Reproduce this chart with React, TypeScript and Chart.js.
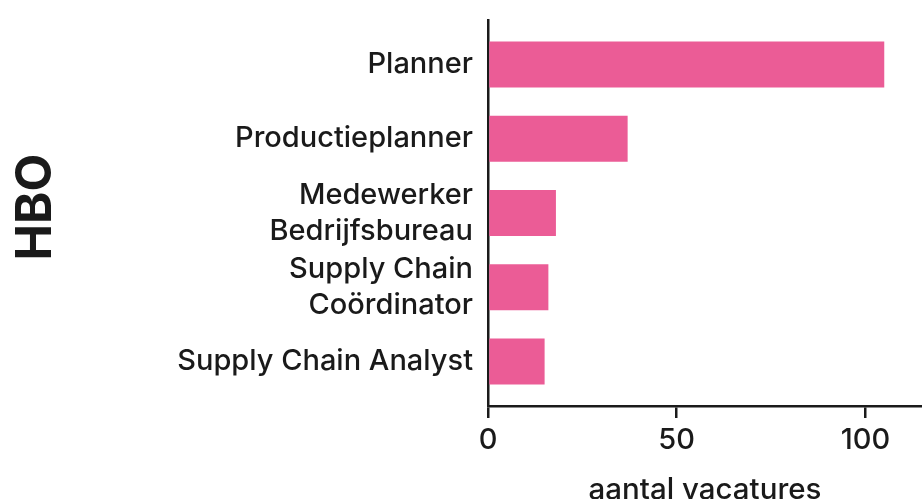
import React, { useEffect, useRef } from "react";
import { Chart, registerables } from "chart.js";

Chart.register(...registerables);

const categories: (string | string[])[] = [
  "Planner",
  "Productieplanner",
  ["Medewerker", "Bedrijfsbureau"],
  ["Supply Chain", "Coördinator"],
  "Supply Chain Analyst",
];
const values: number[] = [105, 37, 18, 16, 15];
const xTicks: number[] = [0, 50, 100];
const yTitle = " HBO";
const xTitle = "aantal vacatures";

const FONT = "Inter, 'Noto Sans', sans-serif";
const INK = "#1a1a1a";
const PINK = "#EB5C96";

export default function App() {
  const ref = useRef<HTMLCanvasElement | null>(null);

  useEffect(() => {
    document.body.style.margin = "0";
    document.body.style.overflow = "hidden";
    const canvas = ref.current;
    if (!canvas) return;
    const chart = new Chart(canvas, {
      type: "bar",
      data: {
        datasets: [
          {
            data: values.map((v, i) => ({ x: v, y: i })),
            backgroundColor: PINK,
            borderWidth: 0,
            barPercentage: 0.62,
            categoryPercentage: 1,
          },
        ],
      },
      options: {
        indexAxis: "y",
        responsive: false,
        animation: false,
        layout: { padding: { top: 20, right: 0, left: 0, bottom: 0 } },
        plugins: { legend: { display: false }, tooltip: { enabled: false } },
        scales: {
          x: {
            type: "linear",
            min: 0,
            max: 115,
            afterBuildTicks: (axis: any) => {
              axis.ticks = xTicks.map((v) => ({ value: v }));
            },
            afterFit: (axis: any) => {
              axis.height = 114;
              axis.paddingLeft = 0;
              axis.paddingRight = 0;
            },
            grid: {
              display: true,
              drawOnChartArea: false,
              drawTicks: true,
              tickLength: 12,
              color: INK,
              lineWidth: 2.5,
            },
            border: { display: true, color: INK, width: 2.5 },
            ticks: {
              color: INK,
              padding: 5,
              autoSkip: false,
              maxRotation: 0,
              font: { family: FONT, size: 29, weight: "500" },
            },
            title: {
              display: true,
              text: xTitle,
              color: INK,
              padding: { top: 0, bottom: 12 },
              font: { family: FONT, size: 29.5, weight: "500" },
            },
          },
          y: {
            type: "linear",
            reverse: true,
            offset: false,
            min: -0.6,
            max: 4.6,
            afterBuildTicks: (axis: any) => {
              axis.ticks = categories.map((_, i) => ({ value: i }));
            },
            afterFit: (axis: any) => {
              axis.width = 488;
              axis.paddingTop = 0;
              axis.paddingBottom = 0;
            },
            grid: { display: false, offset: false },
            border: { display: true, color: INK, width: 2.5 },
            ticks: {
              color: INK,
              padding: 7,
              autoSkip: false,
              font: { family: FONT, size: 29, weight: "500", lineHeight: 1.25 },
              callback: (v: any) => categories[Number(v)] as any,
            },
            title: {
              display: true,
              text: yTitle,
              color: INK,
              padding: { top: 7, bottom: 0 },
              font: { family: FONT, size: 49, weight: "bold" },
            },
          },
        },
      },
    });
    return () => chart.destroy();
  }, []);

  return (
    <div style={{ position: "absolute", left: 0, top: 0, width: 922, height: 520 }}>
      <canvas ref={ref} width={922} height={520} />
    </div>
  );
}
